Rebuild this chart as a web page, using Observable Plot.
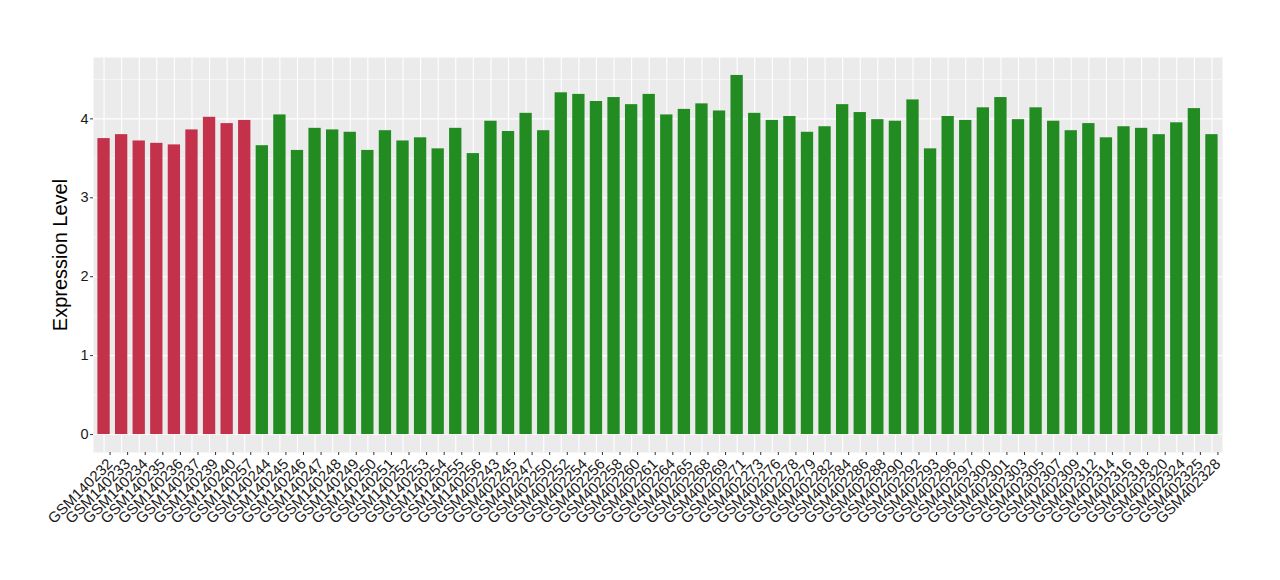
<!DOCTYPE html>
<html>
<head>
<meta charset="utf-8">
<script src="https://cdn.jsdelivr.net/npm/d3@7"></script>
<script src="https://cdn.jsdelivr.net/npm/@observablehq/plot@0.6"></script>
<style>
  html, body { margin: 0; padding: 0; background: white; }
  #chart { width: 1280px; height: 580px; }
</style>
</head>
<body>
<div id="chart"></div>
<script>
const samples = [
  "GSM140232","GSM140233","GSM140234","GSM140235","GSM140236","GSM140237","GSM140239","GSM140240","GSM140257",
  "GSM140244","GSM140245","GSM140246","GSM140247","GSM140248","GSM140249","GSM140250","GSM140251","GSM140252",
  "GSM140253","GSM140254","GSM140255","GSM140256",
  "GSM402243","GSM402245","GSM402247","GSM402250","GSM402252","GSM402254","GSM402256","GSM402258","GSM402260",
  "GSM402261","GSM402264","GSM402265","GSM402268","GSM402269","GSM402271","GSM402273","GSM402276","GSM402278",
  "GSM402279","GSM402282","GSM402284","GSM402286","GSM402288","GSM402290","GSM402292","GSM402293","GSM402296",
  "GSM402297","GSM402300","GSM402301","GSM402303","GSM402305","GSM402307","GSM402309","GSM402312","GSM402314",
  "GSM402316","GSM402318","GSM402320","GSM402324","GSM402325","GSM402328"
];
const values = [
  3.75,3.80,3.72,3.69,3.67,3.86,4.02,3.94,3.98,
  3.66,4.05,3.60,3.88,3.86,3.83,3.60,3.85,3.72,
  3.76,3.62,3.88,3.56,
  3.97,3.84,4.07,3.85,4.33,4.31,4.22,4.27,4.18,
  4.31,4.05,4.12,4.19,4.10,4.55,4.07,3.98,4.03,
  3.83,3.90,4.18,4.08,3.99,3.97,4.24,3.62,4.03,
  3.98,4.14,4.27,3.99,4.14,3.97,3.85,3.94,3.76,
  3.90,3.88,3.80,3.95,4.13,3.80
];
const groupSizes = {A: 9};
const groupNames = ["A", "B"];
const groupColors = ["#C3324A", "#228B22"];
const majorTicks = [0, 1, 2, 3, 4];
const minorTicks = [0.5, 1.5, 2.5, 3.5, 4.5];
const yTitle = "Expression Level";

const data = samples.map((s, i) => ({sample: s, value: values[i], group: i < groupSizes.A ? "A" : "B"}));

const chart = Plot.plot({
  width: 1280,
  height: 580,
  marginLeft: 93,
  marginRight: 58,
  marginTop: 57,
  marginBottom: 128,
  style: {fontFamily: "'Liberation Sans', Arial, sans-serif", background: "white", overflow: "visible"},
  x: {domain: samples, paddingInner: 0.3, paddingOuter: 0.25, align: 0.5, label: null},
  y: {domain: [-0.2275, 4.7775], label: null},
  color: {domain: groupNames, range: groupColors},
  marks: [
    Plot.frame({fill: "#EBEBEB", stroke: null}),
    Plot.ruleY(minorTicks, {y: d => d, stroke: "white", strokeWidth: 0.55}),
    Plot.ruleY(majorTicks, {y: d => d, stroke: "white", strokeWidth: 1.1}),
    Plot.ruleX(samples, {x: d => d, stroke: "white", strokeWidth: 1.1}),
    Plot.barY(data, {x: "sample", y: "value", fill: "group"}),
    Plot.axisY({ticks: majorTicks, tickFormat: d => String(d), tickSize: 3, tickPadding: 2, fontSize: 14.5, fill: "#1a1a1a", stroke: "#333", label: null}),
    Plot.axisX({tickSize: 3, tickPadding: 6, dx: 6, tickRotate: -45, fontSize: 15, fill: "#1a1a1a", stroke: "#333", label: null}),
    Plot.text([yTitle], {frameAnchor: "left", text: d => d, rotate: -90, dx: -33, fontSize: 20, fill: "black", textAnchor: "middle", lineAnchor: "middle"})
  ]
});
document.getElementById("chart").appendChild(chart);
</script>
</body>
</html>
